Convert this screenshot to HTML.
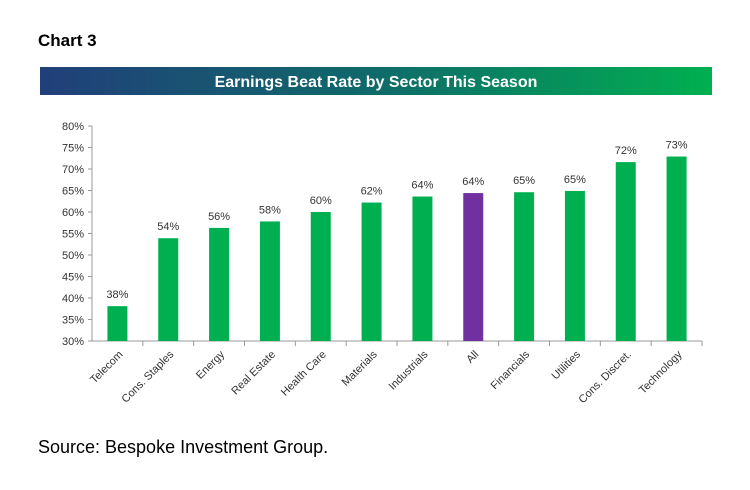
<!DOCTYPE html>
<html><head><meta charset="utf-8"><style>
body{margin:0;background:#fff;width:750px;height:485px;overflow:hidden;font-family:"Liberation Sans",sans-serif}
</style></head><body>
<svg width="750" height="485">
<defs><linearGradient id="g" x1="0" x2="1"><stop offset="0" stop-color="#213f7a"/><stop offset="0.5" stop-color="#0f6a6a"/><stop offset="1" stop-color="#00b050"/></linearGradient></defs>
<text x="38" y="46" font-size="17" font-weight="bold" fill="#000">Chart 3</text>
<rect x="40" y="67" width="672" height="28" fill="url(#g)"/>
<text x="376" y="87" font-size="16" font-weight="bold" fill="#fff" text-anchor="middle">Earnings Beat Rate by Sector This Season</text>
<g id="plot"></g>
<text x="38" y="453" font-size="18" fill="#000">Source: Bespoke Investment Group.</text>
</svg>
<script>
const categories=["Telecom","Cons. Staples","Energy","Real Estate","Health Care","Materials","Industrials","All","Financials","Utilities","Cons. Discret.","Technology"];
const values=[38.1,53.9,56.3,57.8,60.0,62.2,63.6,64.4,64.6,64.9,71.6,72.9];
const valueLabels=["38%","54%","56%","58%","60%","62%","64%","64%","65%","65%","72%","73%"];
const yTicks=[30,35,40,45,50,55,60,65,70,75,80];
const highlight="All";
const NS="http://www.w3.org/2000/svg",g=document.getElementById('plot');
const x0=92,x1=702,yBase=341,yTop=126,bw=(x1-x0)/categories.length;
const y=v=>yBase-(v-30)/50*(yBase-yTop);
const xc=i=>x0+bw*(i+0.5);
function mk(t,a){const e=document.createElementNS(NS,t);for(const k in a)e.setAttribute(k,a[k]);g.appendChild(e);return e;}
let ax=mk('line',{x1:x0,x2:x0,y1:yTop,y2:yBase,stroke:'#999'});


let xa=mk('line',{x1:x0,x2:x1,y1:yBase,y2:yBase,stroke:'#999'});


yTicks.forEach(t=>{
 mk('line',{x1:x0-4,x2:x0,y1:y(t),y2:y(t),stroke:'#999'});
 const l=mk('text',{x:x0-8,y:y(t)+4,'font-size':11,'text-anchor':'end',fill:'#333'});l.textContent=t+'%';
 
 
});
categories.forEach((c,i)=>{
 mk('line',{x1:x0+bw*(i+1),x2:x0+bw*(i+1),y1:yBase,y2:yBase+5,stroke:'#999'});
 const b=mk('rect',{x:xc(i)-10,y:y(values[i]),width:20,height:yBase-y(values[i]),fill:c===highlight?'#7030a0':'#00b050'});
 
 
 const v=mk('text',{x:xc(i),y:y(values[i])-8,'font-size':11,'text-anchor':'middle',fill:'#333'});v.textContent=valueLabels[i];
 
 
 const lx=xc(i)+6,ly=yBase+14;
 const l=mk('text',{x:lx,y:ly,'font-size':11,'text-anchor':'end',fill:'#333',transform:`rotate(-45 ${lx} ${ly})`});l.textContent=c;
 
 
});
</script>
</body></html>
